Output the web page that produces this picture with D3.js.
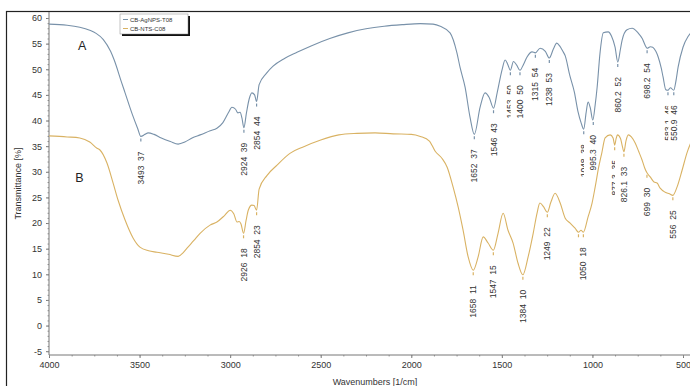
<!DOCTYPE html>
<html>
<head>
<meta charset="utf-8">
<script src="https://cdn.jsdelivr.net/npm/d3@7"></script>
<style>
  body { margin: 0; background: #fff; }
  svg { display: block; font-family: "Liberation Sans", Arial, sans-serif; }
</style>
</head>
<body>
<div id="chart"></div>
<script>
// series A: CB-AgNPS-T08, [wavenumber, transmittance]
var seriesA = [
  [4000, 58.8], [3900, 58.6], [3830, 58.2], [3775, 57.6], [3740, 57.0], [3700, 55.8],
  [3660, 53.5], [3640, 51.8], [3600, 47.5], [3580, 45.4], [3540, 41.2], [3510, 38.4],
  [3493, 36.9], [3470, 37.3], [3453, 37.6], [3420, 37.3], [3380, 36.6], [3330, 35.9],
  [3287, 35.4], [3250, 35.8], [3210, 36.6], [3166, 37.2], [3110, 38.0], [3073, 38.5],
  [3040, 39.6], [3010, 41.5], [2990, 42.6], [2970, 42.2], [2957, 41.5], [2945, 41.6],
  [2935, 40.5], [2924, 38.6], [2910, 41.5], [2895, 44.2], [2880, 45.4], [2865, 45.0],
  [2854, 43.7], [2840, 47.0], [2800, 49.2], [2763, 50.6], [2700, 52.1], [2631, 53.3],
  [2550, 54.6], [2450, 56.0], [2350, 57.1], [2250, 57.9], [2150, 58.4], [2050, 58.7],
  [1950, 58.9], [1880, 58.8], [1840, 58.4], [1786, 57.1], [1748, 53.2], [1731, 50.4],
  [1703, 46.5], [1676, 40.7], [1652, 37.3], [1620, 42.6], [1593, 45.4], [1570, 44.5],
  [1546, 42.4], [1526, 45.4], [1499, 49.9], [1482, 51.8], [1468, 51.0], [1453, 49.8],
  [1436, 51.5], [1418, 50.8], [1400, 49.8], [1380, 51.0], [1361, 52.4], [1333, 53.4],
  [1315, 53.2], [1289, 54.1], [1260, 53.5], [1238, 52.2], [1215, 54.0], [1197, 55.1],
  [1180, 54.5], [1165, 53.6], [1150, 52.6], [1125, 48.8], [1100, 45.6], [1080, 41.8],
  [1062, 39.5], [1048, 38.3], [1035, 41.5], [1024, 43.6], [1012, 42.5], [998, 40.1],
  [985, 43.0], [974, 46.5], [958, 53.2], [940, 57.1], [913, 57.3], [895, 56.5],
  [875, 54.3], [860, 51.4], [845, 54.0], [836, 55.7], [809, 57.7], [781, 58.0],
  [748, 57.1], [725, 56.0], [709, 54.7], [698, 54.1], [680, 54.4], [667, 54.3],
  [650, 53.5], [637, 52.4], [620, 50.2], [610, 48.5], [595, 46.0], [583, 45.9],
  [570, 46.4], [551, 45.9], [540, 47.5], [527, 50.4], [500, 54.3], [472, 56.4],
  [455, 57.2]
];

// series B: CB-NTS-C08
var seriesB = [
  [4000, 37.0], [3900, 36.8], [3830, 36.6], [3775, 35.8], [3735, 34.6], [3720, 34.3],
  [3680, 31.7], [3646, 27.8], [3619, 24.5], [3580, 20.6], [3536, 17.1], [3498, 15.3],
  [3450, 14.6], [3404, 14.3], [3340, 13.9], [3287, 13.5], [3260, 14.2], [3238, 15.1],
  [3200, 16.6], [3166, 18.0], [3111, 19.6], [3073, 20.2], [3030, 21.5], [3000, 22.5],
  [2980, 21.8], [2962, 20.2], [2950, 20.3], [2940, 19.8], [2926, 18.0], [2912, 20.5],
  [2900, 22.5], [2880, 23.5], [2868, 23.4], [2854, 22.5], [2840, 26.6], [2796, 29.3],
  [2741, 31.3], [2670, 33.6], [2600, 34.8], [2500, 36.2], [2400, 37.2], [2300, 37.5],
  [2200, 37.6], [2100, 37.4], [2000, 37.3], [1950, 36.9], [1900, 36.0], [1868, 34.0],
  [1830, 32.6], [1802, 30.9], [1769, 27.0], [1741, 23.1], [1714, 18.6], [1686, 13.4],
  [1658, 10.8], [1631, 13.4], [1603, 17.3], [1576, 16.1], [1547, 14.7], [1521, 18.0],
  [1493, 21.9], [1466, 18.6], [1438, 16.1], [1411, 12.2], [1384, 9.9], [1355, 13.4],
  [1327, 18.0], [1306, 21.9], [1290, 23.9], [1270, 23.2], [1249, 22.1], [1230, 24.0],
  [1206, 25.8], [1178, 23.9], [1151, 21.0], [1123, 20.0], [1096, 19.0], [1077, 18.2],
  [1063, 18.6], [1050, 18.2], [1024, 21.2], [1002, 23.9], [985, 27.0], [965, 31.0],
  [947, 33.9], [930, 36.6], [902, 37.2], [886, 36.6], [877, 35.2], [869, 36.5],
  [862, 37.2], [845, 36.5], [835, 35.0], [826, 33.9], [815, 36.0], [802, 37.2],
  [785, 36.8], [764, 35.6], [745, 34.0], [726, 32.3], [712, 30.8], [699, 29.8],
  [681, 29.0], [660, 28.0], [643, 27.8], [626, 26.8], [598, 26.0], [575, 25.7],
  [556, 25.4], [533, 27.0], [505, 30.3], [478, 33.7], [455, 35.8]
];

// peak picks: [wavenumber, label, value, clipped]
var peaksA = [
  [3493, '3493', 37], [2924, '2924', 39], [2854, '2854', 44], [1652, '1652', 37],
  [1546, '1546', 43], [1453, '1453', 50, true], [1400, '1400', 50], [1315, '1315', 54],
  [1238, '1238', 53], [1048, '1048', 38, true], [995.3, '995.3', 40], [860.2, '860.2', 52],
  [698.2, '698.2', 54], [583, '583.1', 46, true], [550.9, '550.9', 46]
];
var peaksB = [
  [2926, '2926', 18], [2854, '2854', 23], [1658, '1658', 11], [1547, '1547', 15],
  [1384, '1384', 10], [1249, '1249', 22], [1077, null, 18], [1050, '1050', 18],
  [877.3, '877.3', 35, true], [826.1, '826.1', 33], [699, '699', 30], [556, '556', 25]
];

var legendNames = ['CB-AgNPS-T08', 'CB-NTS-C08'];
var colors = ['#7891a9', '#d9b263'];
var yTicks = d3.range(-5, 61, 5);
var xTicks = d3.range(500, 4001, 500);

var W = 690, H = 386;
var plot = {left: 49, top: 12, right: 700, bottom: 355};

var x = d3.scaleLinear().domain([4000, 500]).range([49, 683]);
var y = d3.scaleLinear().domain([-5, 60]).range([351.2, 18]);

var svg = d3.select('#chart').append('svg')
    .attr('width', W)
    .attr('height', H);

// outer frame
svg.append('rect')
  .attr('x', 6.5).attr('y', 11.5)
  .attr('width', 720).attr('height', 420)
  .attr('fill', 'none')
  .attr('stroke', '#222')
  .attr('stroke-width', 1.2);

svg.append('clipPath').attr('id', 'plotclip')
  .append('rect')
  .attr('x', plot.left).attr('y', plot.top)
  .attr('width', plot.right - plot.left).attr('height', plot.bottom - plot.top);

// Y axis
var yAxis = d3.axisLeft(y).tickValues(yTicks).tickSize(3).tickPadding(4)
    .tickFormat(function (d) { return String(d); });
var gy = svg.append('g')
  .attr('transform', 'translate(' + plot.left + ',0)')
  .call(yAxis);
gy.select('.domain').remove();
gy.selectAll('line').attr('stroke', '#777');
gy.selectAll('text').attr('fill', '#333').style('font-size', '9px');

svg.append('g')
  .attr('transform', 'translate(' + plot.left + ',0)')
  .call(d3.axisLeft(y).tickValues(d3.range(-5, 61, 1)).tickSize(1.5).tickFormat(''))
  .call(function (g) { g.select('.domain').remove(); })
  .selectAll('line').attr('stroke', '#999');

// X axis
var xAxis = d3.axisBottom(x).tickValues(xTicks).tickSize(3).tickPadding(4)
    .tickFormat(function (d) { return String(d); });
var gx = svg.append('g')
  .attr('transform', 'translate(0,' + plot.bottom + ')')
  .call(xAxis);
gx.select('.domain').remove();
gx.selectAll('line').attr('stroke', '#777');
gx.selectAll('text').attr('fill', '#333').style('font-size', '9px');

svg.append('g')
  .attr('transform', 'translate(0,' + plot.bottom + ')')
  .call(d3.axisBottom(x).tickValues(d3.range(500, 4001, 125)).tickSize(1.5).tickFormat(''))
  .call(function (g) { g.select('.domain').remove(); })
  .selectAll('line').attr('stroke', '#999');

// axis lines
svg.append('line')
  .attr('x1', plot.left).attr('x2', plot.left)
  .attr('y1', plot.top).attr('y2', plot.bottom)
  .attr('stroke', '#777').attr('stroke-width', 1);
svg.append('line')
  .attr('x1', plot.left).attr('x2', W)
  .attr('y1', plot.bottom).attr('y2', plot.bottom)
  .attr('stroke', '#777').attr('stroke-width', 1);

// axis titles
svg.append('text')
  .attr('x', 375).attr('y', 384.5)
  .attr('text-anchor', 'middle')
  .attr('fill', '#333')
  .style('font-size', '9px')
  .text('Wavenumbers [1/cm]');

svg.append('text')
  .attr('transform', 'translate(21,183.5) rotate(-90)')
  .attr('text-anchor', 'middle')
  .attr('fill', '#333')
  .style('font-size', '9px')
  .text('Transmittance [%]');

// spectra
var line = d3.line()
    .curve(d3.curveMonotoneX)
    .x(function (d) { return x(d[0]); })
    .y(function (d) { return y(d[1]); });

var gPlot = svg.append('g').attr('clip-path', 'url(#plotclip)');

[seriesA, seriesB].forEach(function (s, i) {
  gPlot.append('path')
    .datum(s)
    .attr('d', line)
    .attr('fill', 'none')
    .attr('stroke', colors[i])
    .attr('stroke-width', 1.1);
});

// peak marks and labels
function nearest(series, w) {
  return series.reduce(function (best, p) {
    return Math.abs(p[0] - w) < Math.abs(best[0] - w) ? p : best;
  });
}

var clipCount = 0;
[[peaksA, seriesA], [peaksB, seriesB]].forEach(function (pair, i) {
  pair[0].forEach(function (pk) {
    var px = x(pk[0]);
    var py = y(nearest(pair[1], pk[0])[1]);
    gPlot.append('line')
      .attr('x1', px).attr('x2', px)
      .attr('y1', py + 2).attr('y2', py + 5)
      .attr('stroke', colors[i])
      .attr('stroke-width', 1.2);
    if (!pk[1]) return;
    var g = gPlot.append('g');
    if (pk[3]) {
      var id = 'lc' + (clipCount++);
      svg.append('clipPath').attr('id', id)
        .append('rect')
        .attr('x', 0).attr('y', 0)
        .attr('width', px + 0.3).attr('height', H);
      g = g.append('g').attr('clip-path', 'url(#' + id + ')');
    }
    g.append('text')
      .attr('transform', 'translate(' + px + ',' + (py + 15) + ') rotate(-90)')
      .attr('text-anchor', 'end')
      .attr('dy', '0.35em')
      .attr('fill', '#333')
      .style('font-size', '8.5px')
      .style('white-space', 'pre')
      .text(pk[1] + '  ' + pk[2]);
  });
});

// curve letters
svg.append('text')
  .attr('x', x(3840)).attr('y', y(53.8))
  .attr('fill', '#222')
  .style('font-size', '12.5px')
  .text('A');
svg.append('text')
  .attr('x', x(3855)).attr('y', y(28))
  .attr('fill', '#222')
  .style('font-size', '12.5px')
  .text('B');

// legend
var lg = svg.append('g').attr('transform', 'translate(120,14)');
lg.append('rect')
  .attr('x', 2).attr('y', 2)
  .attr('width', 68).attr('height', 20)
  .attr('fill', '#111');
lg.append('rect')
  .attr('x', 0).attr('y', 0)
  .attr('width', 68).attr('height', 20)
  .attr('fill', '#fff')
  .attr('stroke', '#888')
  .attr('stroke-width', 0.5);
legendNames.forEach(function (name, i) {
  var ly = 5.5 + i * 9;
  lg.append('line')
    .attr('x1', 3).attr('x2', 8)
    .attr('y1', ly).attr('y2', ly)
    .attr('stroke', colors[i]);
  lg.append('text')
    .attr('x', 10).attr('y', ly + 2)
    .attr('fill', '#333')
    .style('font-size', '6px')
    .text(name);
});
</script>
</body>
</html>
